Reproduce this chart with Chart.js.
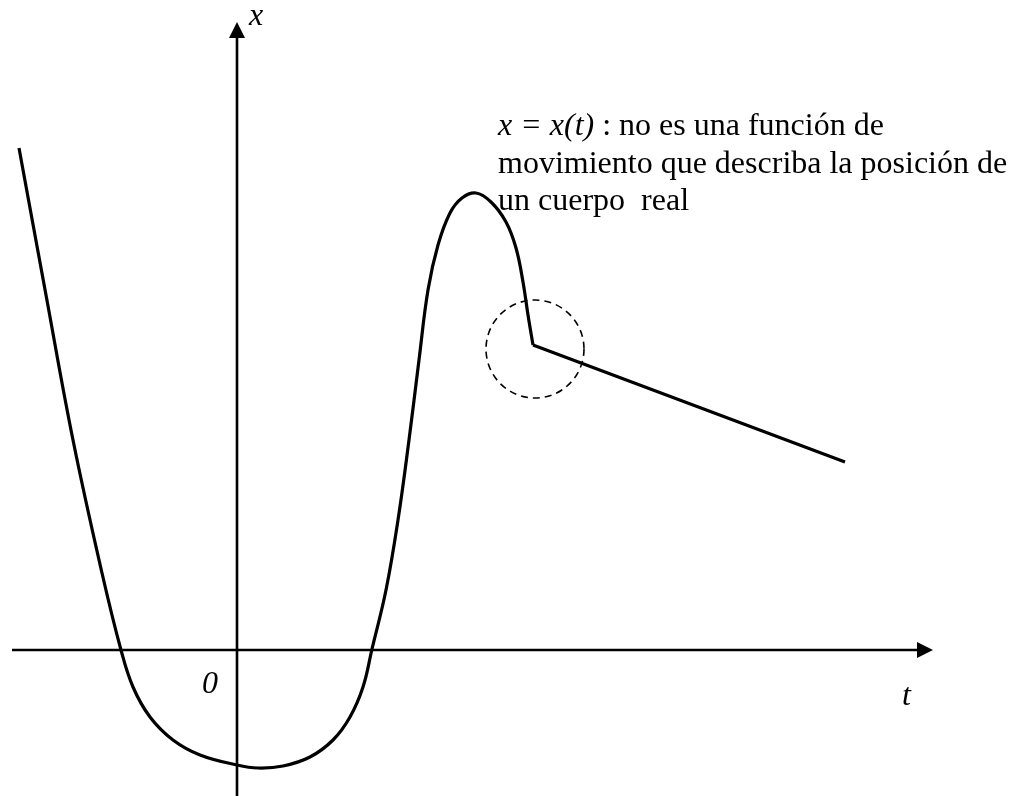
<!DOCTYPE html>
<html>
<head>
<meta charset="utf-8">
<script src="https://cdn.jsdelivr.net/npm/chart.js@4.4.1/dist/chart.umd.min.js"></script>
<style>
  html, body { margin: 0; padding: 0; background: #fff; }
  #wrap { width: 1021px; height: 796px; }
</style>
</head>
<body>
<div id="wrap"><canvas id="chart" width="1021" height="796"></canvas></div>
<script>
// ── data (t, x) ─────────────────────────────────────────
const curveT = [-2.18, -1.91, -1.64, -1.35, -1.16, -1.04, -0.87, -0.64, -0.37, 0.00, 0.21, 0.46,
                0.73, 0.96, 1.13, 1.26, 1.35, 1.49, 1.61, 1.72, 1.82, 1.91, 2.01, 2.13, 2.25, 2.39,
                2.54, 2.69, 2.79, 2.86, 2.91, 2.96];
const curveX = [5.02, 3.55, 2.10, 0.77, 0.00, -0.37, -0.67, -0.90, -1.05, -1.15, -1.18, -1.16,
                -1.07, -0.90, -0.67, -0.37, 0.01, 0.60, 1.30, 2.10, 2.90, 3.60, 4.05, 4.37, 4.52, 4.57,
                4.48, 4.28, 4.02, 3.68, 3.35, 3.05];
// straight tail after the kink
const tailT = [2.96, 6.08];
const tailX = [3.05, 1.88];

// axes extents
const tRange = [-2.37, 7.84];
const xRange = [-1.46, 6.50];
const tAxis = [-2.25, 6.96];   // horizontal axis, arrow at right end
const xAxis = [-1.46, 6.28];   // vertical axis, arrow at top end

// dashed circle round the kink
const ringCenter = [2.98, 3.01];
const ringRadius = 0.49;

const noteLines = [
  'movimiento que describa la posición de',
  'un cuerpo  real'
];
const noteHead = ['x = x(t)', ' : no es una función de'];
const noteAt = [2.61, 5.15];   // left, first baseline
const noteStep = 0.375;

const toPts = (ts, xs) => ts.map((t, i) => ({ x: t, y: xs[i] }));

// ── axes, arrows, ring, text ────────────────────
const sketchPlugin = {
  id: 'sketch',
  beforeDatasetsDraw(chart) {
    const { ctx, scales: { x, y } } = chart;
    const ox = x.getPixelForValue(0), oy = y.getPixelForValue(0);
    ctx.save();
    ctx.strokeStyle = '#000';
    ctx.fillStyle = '#000';
    ctx.lineWidth = 2.6;

    const tEnd = x.getPixelForValue(tAxis[1]);
    ctx.beginPath();
    ctx.moveTo(x.getPixelForValue(tAxis[0]), oy);
    ctx.lineTo(tEnd - 10, oy);
    ctx.stroke();
    ctx.beginPath();
    ctx.moveTo(tEnd, oy);
    ctx.lineTo(tEnd - 16, oy - 8);
    ctx.lineTo(tEnd - 16, oy + 8);
    ctx.closePath();
    ctx.fill();

    const xEnd = y.getPixelForValue(xAxis[1]);
    ctx.beginPath();
    ctx.moveTo(ox, y.getPixelForValue(xAxis[0]));
    ctx.lineTo(ox, xEnd + 10);
    ctx.stroke();
    ctx.beginPath();
    ctx.moveTo(ox, xEnd);
    ctx.lineTo(ox - 8, xEnd + 16);
    ctx.lineTo(ox + 8, xEnd + 16);
    ctx.closePath();
    ctx.fill();

    // dashed ring
    const cx = x.getPixelForValue(ringCenter[0]), cy = y.getPixelForValue(ringCenter[1]);
    const r = x.getPixelForValue(ringCenter[0] + ringRadius) - cx;
    ctx.lineWidth = 1.6;
    ctx.setLineDash([7, 5]);
    ctx.beginPath();
    ctx.arc(cx, cy, r, 0, Math.PI * 2);
    ctx.stroke();
    ctx.setLineDash([]);

    // labels
    ctx.textBaseline = 'alphabetic';
    ctx.font = 'italic 32px "Liberation Serif"';
    ctx.fillText('x', ox + 12, 25);
    ctx.fillText('0', ox - 35, oy + 43);
    ctx.fillText('t', x.getPixelForValue(6.65), oy + 55);

    const nx = x.getPixelForValue(noteAt[0]);
    let ny = y.getPixelForValue(noteAt[1]);
    ctx.fillText(noteHead[0], nx, ny);
    const w = ctx.measureText(noteHead[0]).width;
    ctx.font = '32px "Liberation Serif"';
    ctx.fillText(noteHead[1], nx + w, ny);
    const step = y.getPixelForValue(0) - y.getPixelForValue(noteStep);
    noteLines.forEach(line => {
      ny += step;
      ctx.fillText(line, nx, ny);
    });
    ctx.restore();
  }
};

new Chart(document.getElementById('chart'), {
  type: 'scatter',
  data: {
    datasets: [
      {
        data: toPts(curveT, curveX),
        showLine: true,
        borderColor: '#000',
        borderWidth: 3.2,
        pointRadius: 0,
        tension: 0.4
      },
      {
        data: toPts(tailT, tailX),
        showLine: true,
        borderColor: '#000',
        borderWidth: 3.2,
        pointRadius: 0,
        tension: 0
      }
    ]
  },
  options: {
    responsive: false,
    animation: false,
    layout: { padding: 0 },
    plugins: { legend: { display: false }, tooltip: { enabled: false } },
    scales: {
      x: { type: 'linear', min: tRange[0], max: tRange[1], display: false },
      y: { type: 'linear', min: xRange[0], max: xRange[1], display: false }
    }
  },
  plugins: [sketchPlugin]
});
</script>
</body>
</html>
